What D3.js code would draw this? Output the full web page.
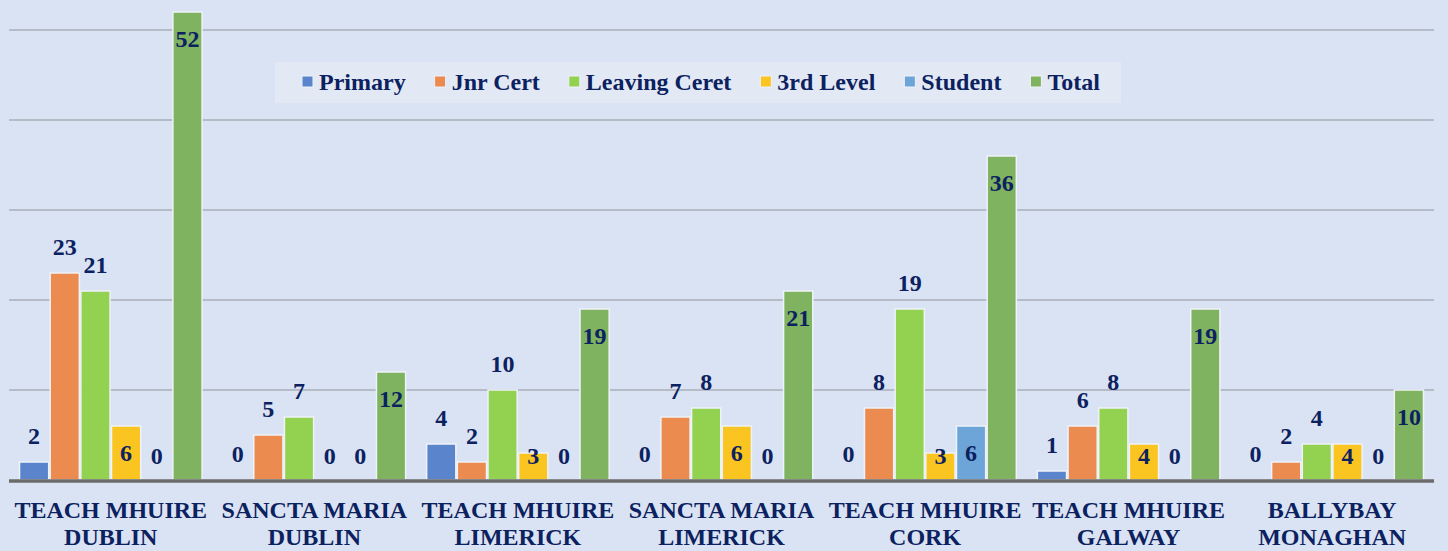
<!DOCTYPE html>
<html><head><meta charset="utf-8">
<script src="https://cdn.jsdelivr.net/npm/d3@7"></script>
<style>
html,body{margin:0;padding:0;background:#dae3f3;}
svg{display:block;}
</style></head>
<body>
<svg id="c" width="1448" height="551" font-family="'Liberation Serif', 'Times New Roman', serif" font-weight="bold"></svg>
<script>
const categories = [["TEACH MHUIRE","DUBLIN"],["SANCTA MARIA","DUBLIN"],["TEACH MHUIRE","LIMERICK"],["SANCTA MARIA","LIMERICK"],["TEACH MHUIRE","CORK"],["TEACH MHUIRE","GALWAY"],["BALLYBAY","MONAGHAN"]];
const seriesNames = ["Primary","Jnr Cert","Leaving Ceret","3rd Level","Student","Total"];
const primary  = [2,0,4,0,0,1,0];
const jnrCert  = [23,5,2,7,8,6,2];
const leaving  = [21,7,10,8,19,8,4];
const third    = [6,0,3,6,3,4,4];
const student  = [0,0,0,0,6,0,0];
const total    = [52,12,19,21,36,19,10];
const yTicks   = [10,20,30,40,50];

const seriesValues = [primary,jnrCert,leaving,third,student,total];
const colors = ["#5a84cc","#ec8b4f","#93d150","#fac421","#6ea5d9","#80b360"];
const labelInside = [false,false,false,true,true,true];
const textColor = "#0b2160";

const svg = d3.select("#c");
const catKeys = categories.map(c=>c.join(" "));
const x0 = d3.scaleBand().domain(catKeys).range([9,1434]).paddingInner(0.096).paddingOuter(0.048);
const x1 = d3.scaleBand().domain(seriesNames).range([0,x0.bandwidth()]);
const y = d3.scaleLinear().domain([0,50]).range([480,30]);

// gridlines
svg.append("g").selectAll("line").data(yTicks).join("line")
  .attr("x1",9).attr("x2",1434).attr("y1",d=>y(d)).attr("y2",d=>y(d))
  .attr("stroke","#b6bcc7").attr("stroke-width",2);

// bars
const groups = svg.append("g").selectAll("g").data(catKeys).join("g")
  .attr("transform",d=>`translate(${x0(d)},0)`);
groups.each(function(cat,ci){
  const g = d3.select(this);
  seriesNames.forEach((s,si)=>{
    const v = seriesValues[si][ci];
    if(v>0){
      g.append("rect").attr("x",x1(s)+0.75).attr("width",x1.bandwidth()-1.5)
        .attr("y",y(v)).attr("height",y(0)-y(v))
        .attr("fill",colors[si]).attr("stroke","#eef2f9").attr("stroke-width",1.5);
    }
  });
});

// baseline
svg.append("line").attr("x1",9).attr("x2",1434).attr("y1",y(0)+1).attr("y2",y(0)+1)
  .attr("stroke","#6b6b6b").attr("stroke-width",3.5);

// value labels
groups.each(function(cat,ci){
  const g = d3.select(this);
  seriesNames.forEach((s,si)=>{
    const v = seriesValues[si][ci];
    const top = y(v);
    let by = labelInside[si] ? Math.min(top+35, y(0)-16) : Math.min(top-18, y(0)-16);
    g.append("text").attr("x",x1(s)+x1.bandwidth()/2).attr("y",by)
      .attr("text-anchor","middle").attr("font-size",24).attr("fill",textColor).text(v);
  });
});

// category labels
const xa = svg.append("g");
categories.forEach((c,ci)=>{
  const cx = x0(catKeys[ci]) + x0.bandwidth()/2;
  c.forEach((line,li)=>{
    xa.append("text").attr("x",cx).attr("y",518+li*27).attr("text-anchor","middle")
      .attr("font-size",24).attr("fill",textColor).text(line);
  });
});

// legend
const lg = svg.append("g");
lg.append("rect").attr("x",275).attr("y",62).attr("width",846).attr("height",41).attr("fill","#e3e9f4");
let lx = 302;
seriesNames.forEach((s,si)=>{
  lg.append("rect").attr("x",lx).attr("y",76).attr("width",11).attr("height",11)
    .attr("fill",colors[si]).attr("stroke","#eef2f9").attr("stroke-width",1);
  const t = lg.append("text").attr("x",lx+17).attr("y",90).attr("font-size",24).attr("fill",textColor).text(s);
  lx += 17 + t.node().getComputedTextLength() + 29;
});
</script>
</body></html>
